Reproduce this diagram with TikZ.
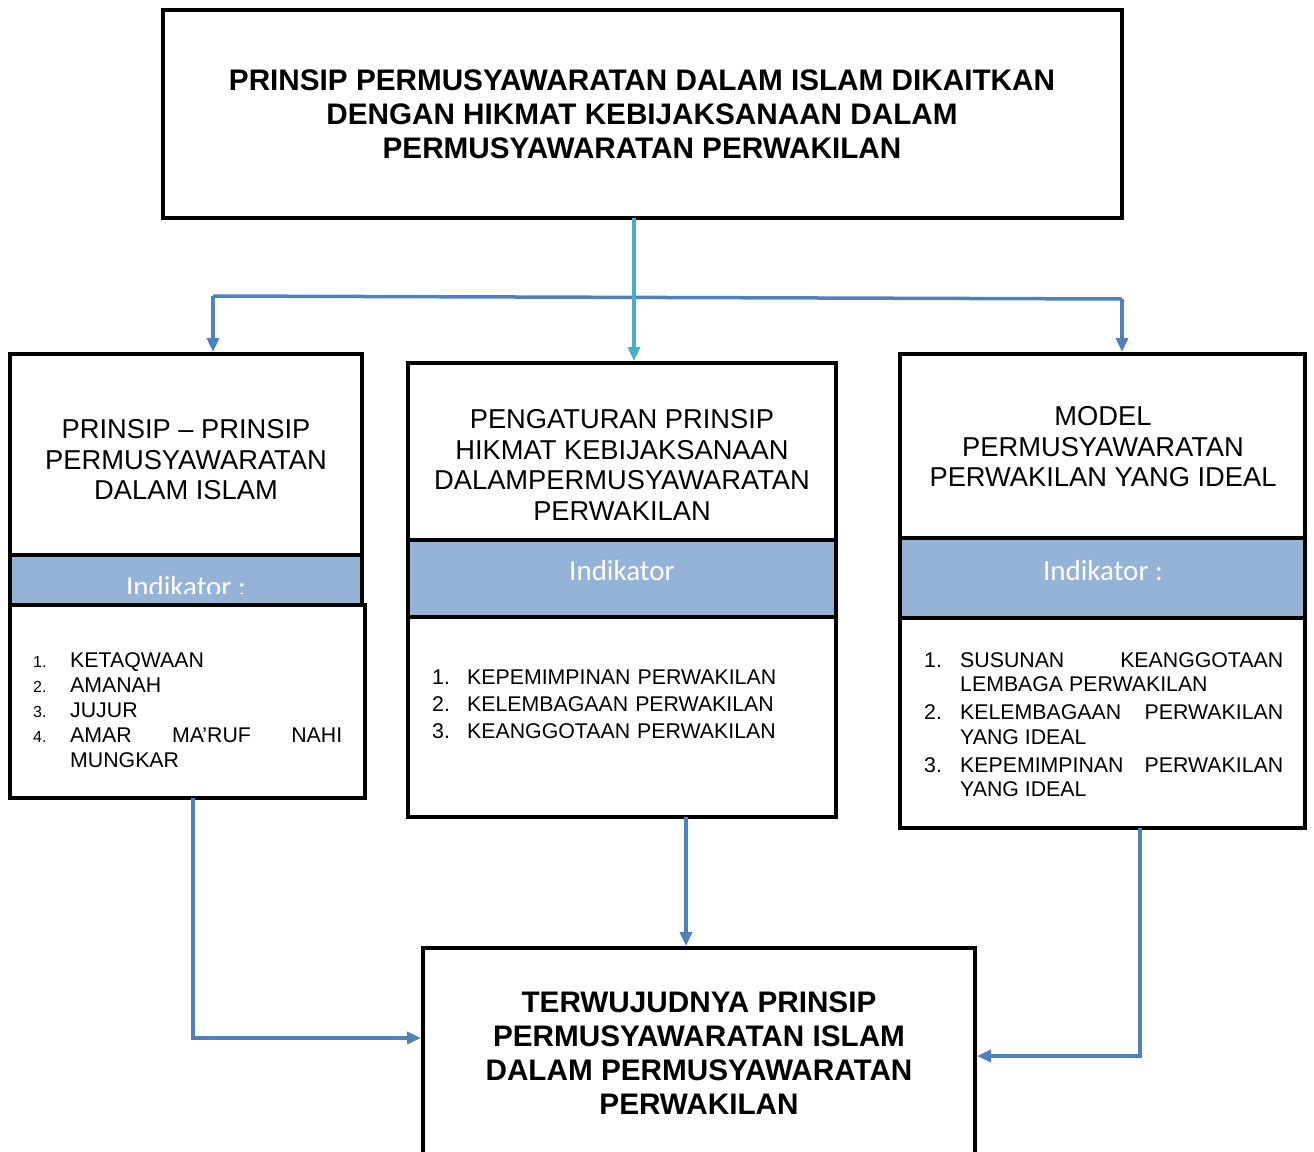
\documentclass[tikz,border=0pt]{standalone}
\usepackage{fontspec}
\setmainfont{Liberation Sans}
\newfontfamily\indfont{Carlito}
\usetikzlibrary{positioning, arrows.meta}
\definecolor{linkblue}{HTML}{4F81BD}
\definecolor{linkcyan}{HTML}{4BACC6}
\definecolor{bandblue}{HTML}{95B3D7}
\newlength{\numwd}
\newcommand{\numitem}[2]{\hangindent=\numwd\hangafter=1\noindent\makebox[\numwd][l]{#1}#2\par}
\newcommand{\nobreaks}{\tolerance=10000\relax\hyphenpenalty=10000\relax\emergencystretch=40pt\relax}

\begin{document}
\begin{tikzpicture}[x=1pt, y=-1pt,
    box/.style={draw, line width=4pt, fill=white, inner sep=0pt, outer sep=0pt},
    band/.style={box, fill=bandblue},
    head/.style={align=center, inner sep=0pt, font=\fontsize{27.3}{30.5}\selectfont},
    bighead/.style={align=center, inner sep=0pt, font=\bfseries\fontsize{29.7}{34}\selectfont},
    ind/.style={text=white, inner sep=0pt, font=\indfont\fontsize{29}{30}\selectfont},
    items/.style={anchor=north west, inner sep=0pt, font=\fontsize{21.3}{25}\selectfont},
    link/.style={line width=3.5pt, linkblue},
    tip/.style={-{Triangle[length=14pt, width=12pt]}, shorten >=2pt}]
    \useasboundingbox (0,0) rectangle (1314,1151);

    \node[box, anchor=north west, minimum width=959pt, minimum height=208pt] (title) at (163,10) {};
    \node[bighead] (titletxt) at (642,114) {PRINSIP PERMUSYAWARATAN DALAM ISLAM DIKAITKAN\\DENGAN HIKMAT KEBIJAKSANAAN DALAM\\PERMUSYAWARATAN PERWAKILAN};

    \node[box, anchor=north west, minimum width=352pt, minimum height=201pt] (lt) at (10,354) {};
    \node[band, minimum width=352pt, minimum height=50pt, below=0pt of lt] (lb) {};
    \node[box, minimum width=355pt, minimum height=193pt, below=0pt of lb.south west, anchor=north west] (ll) {};

    \node[box, anchor=north west, minimum width=428pt, minimum height=177pt] (mt) at (408,363) {};
    \node[band, minimum width=428pt, minimum height=77pt, below=0pt of mt] (mb) {};
    \node[box, minimum width=428pt, minimum height=200pt, below=0pt of mb] (ml) {};

    \node[box, anchor=north west, minimum width=405pt, minimum height=184pt] (rt) at (900,354) {};
    \node[band, minimum width=405pt, minimum height=80pt, below=0pt of rt] (rb) {};
    \node[box, minimum width=405pt, minimum height=210pt, below=0pt of rb] (rl) {};

    \node[box, anchor=north west, minimum width=552pt, minimum height=220pt] (res) at (423,948) {};

    \node[head] (lttxt) at (186,460) {PRINSIP -- PRINSIP\\PERMUSYAWARATAN\\DALAM ISLAM};
    \node[head] (mttxt) at (622,465) {PENGATURAN PRINSIP\\HIKMAT KEBIJAKSANAAN\\DALAMPERMUSYAWARATAN\\PERWAKILAN};
    \node[head] (rttxt) at (1103,447) {MODEL\\PERMUSYAWARATAN\\PERWAKILAN YANG IDEAL};

    \begin{scope}
        \clip (10,555) rectangle (362,593);
        \node[ind] (lbtxt) at (186,587) {Indikator :};
    \end{scope}
    \node[ind] (mbtxt) at (622,571) {Indikator};
    \node[ind] (rbtxt) at (1103,571) {Indikator :};

    \node[items, text width=309pt, align=justify] (lltxt) at (33,652) {\nobreaks\setlength{\numwd}{37pt}%
        \numitem{\fontsize{16}{16}\selectfont 1.}{KETAQWAAN}
        \numitem{\fontsize{16}{16}\selectfont 2.}{AMANAH}
        \numitem{\fontsize{16}{16}\selectfont 3.}{JUJUR}
        \numitem{\fontsize{16}{16}\selectfont 4.}{AMAR MA’RUF NAHI MUNGKAR}};
    \node[items, text width=380pt, align=left, font=\fontsize{21.3}{27}\selectfont] (mltxt) at (432,670) {\setlength{\numwd}{35pt}%
        \numitem{1.}{KEPEMIMPINAN PERWAKILAN}
        \numitem{2.}{KELEMBAGAAN PERWAKILAN}
        \numitem{3.}{KEANGGOTAAN PERWAKILAN}};
    \node[items, text width=359pt, align=justify, font=\fontsize{21.3}{24.5}\selectfont] (rltxt) at (924,652) {\nobreaks\parskip=3.5pt\relax\setlength{\numwd}{36pt}%
        \numitem{1.}{SUSUNAN KEANGGOTAAN LEMBAGA PERWAKILAN}
        \numitem{2.}{KELEMBAGAAN PERWAKILAN YANG IDEAL}
        \numitem{3.}{KEPEMIMPINAN PERWAKILAN YANG IDEAL}};

    \node[bighead] (restxt) at (699,1053) {TERWUJUDNYA PRINSIP\\PERMUSYAWARATAN ISLAM\\DALAM PERMUSYAWARATAN\\PERWAKILAN};

    \coordinate (jl) at (213,296);
    \coordinate (jr) at (1122,299);
    \draw[link] (jl) -- (jr);
    \draw[link, tip] (jl) -- (jl |- lt.north);
    \draw[link, tip] (jr) -- (jr |- rt.north);
    \draw[link, linkcyan, tip] ([xshift=-8.5pt]title.south) -- ([xshift=-8.5pt]title.south |- mt.north);

    \draw[link, tip] ([xshift=5.5pt]ll.south) |- (res.west |- 0,1038);
    \draw[link, tip] ([xshift=64pt]ml.south) -- ([xshift=64pt]ml.south |- res.north);
    \draw[link, tip] ([xshift=37.5pt]rl.south) |- (res.east |- 0,1056);
\end{tikzpicture}
\end{document}
